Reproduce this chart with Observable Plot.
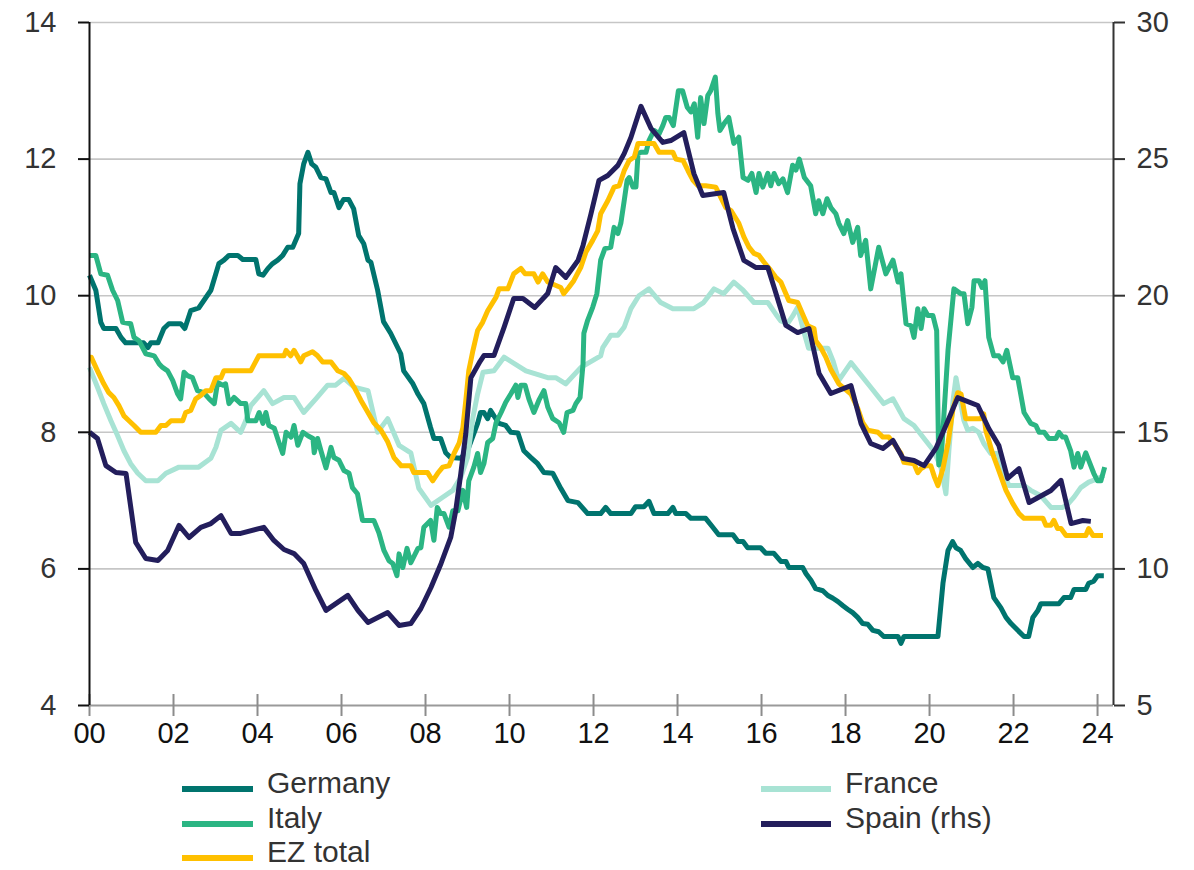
<!DOCTYPE html>
<html><head><meta charset="utf-8">
<script src="https://cdn.jsdelivr.net/npm/d3@7"></script>
<script src="https://cdn.jsdelivr.net/npm/@observablehq/plot@0.6"></script>
<style>
body{margin:0;background:#fff;font-family:"Liberation Sans",Arial,sans-serif}
#wrap{position:relative;width:1194px;height:870px;overflow:hidden}
.sw{position:absolute;height:6px}
.lt{position:absolute;font-size:30px;line-height:30px;color:#333;white-space:nowrap}
</style>
</head><body><div id="wrap"></div>
<script>
// ---- data: [decimal year, value] ----
const germany = [[2000.00,10.30],[2000.15,10.08],[2000.27,9.61],[2000.34,9.52],[2000.63,9.52],[2000.75,9.39],[2000.86,9.31],[2001.29,9.31],[2001.39,9.24],[2001.46,9.31],[2001.63,9.31],[2001.77,9.52],[2001.89,9.59],[2002.17,9.59],[2002.27,9.52],[2002.41,9.78],[2002.60,9.82],[2002.89,10.08],[2003.08,10.47],[2003.20,10.52],[2003.32,10.59],[2003.53,10.59],[2003.65,10.53],[2003.96,10.53],[2004.03,10.32],[2004.13,10.30],[2004.25,10.40],[2004.36,10.47],[2004.48,10.52],[2004.60,10.59],[2004.72,10.71],[2004.84,10.71],[2004.98,10.91],[2005.01,11.64],[2005.10,11.93],[2005.20,12.10],[2005.29,11.93],[2005.39,11.88],[2005.51,11.73],[2005.63,11.71],[2005.75,11.51],[2005.82,11.51],[2005.94,11.29],[2006.05,11.41],[2006.17,11.41],[2006.29,11.27],[2006.41,10.88],[2006.53,10.76],[2006.63,10.52],[2006.70,10.49],[2006.86,10.08],[2007.00,9.62],[2007.17,9.45],[2007.41,9.15],[2007.48,8.90],[2007.70,8.71],[2007.82,8.56],[2007.96,8.42],[2008.12,8.07],[2008.20,7.91],[2008.36,7.91],[2008.48,7.70],[2008.60,7.63],[2008.84,7.62],[2009.00,7.73],[2009.24,8.13],[2009.31,8.29],[2009.39,8.29],[2009.48,8.20],[2009.55,8.32],[2009.63,8.24],[2009.75,8.13],[2009.91,8.10],[2010.03,8.00],[2010.20,7.99],[2010.34,7.73],[2010.51,7.63],[2010.67,7.54],[2010.82,7.41],[2011.03,7.40],[2011.22,7.18],[2011.39,7.00],[2011.63,6.97],[2011.86,6.81],[2012.17,6.81],[2012.29,6.90],[2012.41,6.81],[2012.89,6.81],[2013.00,6.91],[2013.20,6.91],[2013.32,6.99],[2013.44,6.81],[2013.77,6.81],[2013.89,6.90],[2013.96,6.81],[2014.20,6.81],[2014.32,6.74],[2014.67,6.74],[2014.84,6.61],[2014.98,6.50],[2015.32,6.50],[2015.44,6.40],[2015.56,6.40],[2015.67,6.31],[2015.98,6.31],[2016.10,6.23],[2016.29,6.23],[2016.46,6.11],[2016.58,6.11],[2016.65,6.02],[2016.98,6.02],[2017.06,5.93],[2017.18,5.83],[2017.29,5.71],[2017.46,5.68],[2017.58,5.61],[2017.70,5.57],[2017.82,5.52],[2017.94,5.46],[2018.05,5.41],[2018.17,5.36],[2018.29,5.29],[2018.41,5.20],[2018.53,5.19],[2018.65,5.10],[2018.79,5.08],[2018.91,5.01],[2019.25,5.01],[2019.32,4.91],[2019.39,5.01],[2020.20,5.01],[2020.32,5.79],[2020.44,6.27],[2020.55,6.40],[2020.63,6.31],[2020.74,6.27],[2020.86,6.15],[2021.03,6.02],[2021.15,6.08],[2021.27,6.02],[2021.39,6.00],[2021.53,5.58],[2021.70,5.43],[2021.82,5.29],[2021.94,5.20],[2022.10,5.10],[2022.25,5.01],[2022.36,5.01],[2022.46,5.29],[2022.58,5.39],[2022.65,5.49],[2023.08,5.49],[2023.20,5.58],[2023.36,5.58],[2023.44,5.70],[2023.72,5.70],[2023.79,5.79],[2023.91,5.82],[2024.00,5.90],[2024.15,5.90]];

const france = [[2000.00,8.95],[2000.19,8.66],[2000.34,8.42],[2000.51,8.17],[2000.67,7.95],[2000.82,7.73],[2000.98,7.54],[2001.15,7.40],[2001.34,7.29],[2001.63,7.29],[2001.82,7.40],[2002.13,7.49],[2002.60,7.49],[2002.89,7.62],[2003.01,7.78],[2003.13,8.03],[2003.37,8.13],[2003.60,8.00],[2003.72,8.17],[2003.84,8.39],[2004.15,8.61],[2004.36,8.42],[2004.63,8.51],[2004.87,8.51],[2005.10,8.29],[2005.39,8.49],[2005.67,8.69],[2005.86,8.69],[2006.06,8.79],[2006.30,8.66],[2006.63,8.61],[2006.86,8.00],[2007.10,8.20],[2007.37,7.81],[2007.65,7.70],[2007.84,7.18],[2008.13,6.93],[2008.41,7.05],[2008.65,7.15],[2008.84,7.34],[2009.00,7.63],[2009.13,8.22],[2009.24,8.56],[2009.37,8.88],[2009.63,8.90],[2009.87,9.10],[2010.39,8.90],[2010.91,8.80],[2011.10,8.80],[2011.34,8.71],[2011.70,8.95],[2012.17,9.12],[2012.22,9.24],[2012.41,9.42],[2012.58,9.42],[2012.73,9.54],[2012.89,9.81],[2013.08,10.00],[2013.32,10.10],[2013.60,9.90],[2013.89,9.81],[2014.39,9.81],[2014.62,9.90],[2014.87,10.10],[2015.10,10.03],[2015.34,10.20],[2015.56,10.08],[2015.82,9.90],[2016.15,9.90],[2016.34,9.73],[2016.46,9.63],[2016.62,9.59],[2016.74,9.70],[2016.86,9.83],[2017.00,9.49],[2017.12,9.23],[2017.58,9.23],[2017.70,9.05],[2017.84,8.76],[2018.13,9.02],[2018.60,8.66],[2018.91,8.42],[2019.13,8.49],[2019.39,8.20],[2019.63,8.10],[2019.87,7.91],[2020.10,7.73],[2020.27,7.49],[2020.39,7.10],[2020.46,7.73],[2020.56,8.47],[2020.63,8.80],[2020.70,8.56],[2020.82,8.17],[2020.91,8.03],[2021.03,8.06],[2021.17,8.00],[2021.29,7.84],[2021.46,7.69],[2021.63,7.69],[2021.77,7.40],[2021.89,7.22],[2022.25,7.22],[2022.41,7.15],[2022.65,7.07],[2022.89,6.90],[2023.17,6.90],[2023.31,6.96],[2023.44,7.05],[2023.60,7.19],[2023.79,7.27],[2024.00,7.32],[2024.15,7.37]];

const italy = [[2000.00,10.59],[2000.15,10.59],[2000.27,10.32],[2000.43,10.30],[2000.55,10.08],[2000.67,9.93],[2000.79,9.61],[2000.98,9.59],[2001.06,9.39],[2001.18,9.34],[2001.34,9.15],[2001.54,9.12],[2001.66,9.00],[2001.74,8.95],[2001.86,8.90],[2001.98,8.76],[2002.10,8.56],[2002.17,8.49],[2002.25,8.88],[2002.33,8.83],[2002.45,8.80],[2002.57,8.61],[2002.72,8.58],[2002.85,8.49],[2002.97,8.42],[2003.05,8.73],[2003.17,8.69],[2003.24,8.71],[2003.32,8.42],[2003.44,8.51],[2003.60,8.42],[2003.72,8.42],[2003.77,8.17],[2003.96,8.17],[2004.04,8.29],[2004.13,8.13],[2004.20,8.29],[2004.27,8.10],[2004.40,8.06],[2004.51,7.85],[2004.60,7.69],[2004.68,8.00],[2004.80,7.93],[2004.87,8.10],[2004.96,7.81],[2005.08,8.00],[2005.20,7.95],[2005.32,7.91],[2005.35,7.70],[2005.43,7.91],[2005.51,7.73],[2005.63,7.48],[2005.75,7.78],[2005.82,7.63],[2005.94,7.59],[2006.06,7.44],[2006.18,7.40],[2006.26,7.19],[2006.38,7.10],[2006.50,6.71],[2006.77,6.71],[2006.89,6.53],[2007.01,6.27],[2007.13,6.12],[2007.22,6.08],[2007.32,5.90],[2007.37,6.22],[2007.46,6.02],[2007.56,6.30],[2007.65,6.09],[2007.82,6.30],[2007.89,6.31],[2007.96,6.61],[2008.12,6.71],[2008.20,6.42],[2008.28,6.90],[2008.36,6.81],[2008.44,6.81],[2008.56,6.61],[2008.65,6.85],[2008.77,6.85],[2008.89,7.15],[2008.98,6.90],[2009.03,7.29],[2009.15,7.49],[2009.24,7.69],[2009.31,7.41],[2009.39,7.54],[2009.48,7.85],[2009.60,7.91],[2009.68,8.14],[2009.80,8.29],[2009.91,8.44],[2010.03,8.56],[2010.15,8.69],[2010.20,8.51],[2010.27,8.69],[2010.37,8.69],[2010.46,8.49],[2010.58,8.29],[2010.70,8.47],[2010.82,8.61],[2010.91,8.37],[2011.03,8.20],[2011.18,8.14],[2011.29,8.00],[2011.37,8.29],[2011.51,8.32],[2011.58,8.42],[2011.68,8.51],[2011.75,9.00],[2011.77,9.45],[2011.86,9.64],[2011.98,9.83],[2012.08,10.03],[2012.17,10.52],[2012.27,10.69],[2012.41,10.71],[2012.49,11.00],[2012.58,10.91],[2012.65,11.06],[2012.73,11.39],[2012.80,11.69],[2012.85,11.73],[2012.94,11.59],[2013.01,11.59],[2013.06,12.08],[2013.13,12.10],[2013.25,12.10],[2013.32,12.27],[2013.44,12.42],[2013.56,12.37],[2013.65,12.49],[2013.72,12.61],[2013.80,12.61],[2013.90,12.49],[2014.02,13.00],[2014.12,13.00],[2014.23,12.76],[2014.32,12.69],[2014.40,12.81],[2014.48,12.32],[2014.55,12.90],[2014.63,12.52],[2014.72,12.93],[2014.79,13.00],[2014.90,13.20],[2014.96,12.67],[2015.01,12.42],[2015.11,12.52],[2015.22,12.61],[2015.34,12.23],[2015.46,12.32],[2015.56,11.73],[2015.68,11.69],[2015.77,11.79],[2015.87,11.51],[2015.94,11.79],[2016.03,11.59],[2016.15,11.79],[2016.22,11.61],[2016.30,11.79],[2016.41,11.64],[2016.51,11.71],[2016.62,11.51],[2016.74,11.91],[2016.82,11.84],[2016.90,12.00],[2017.02,11.73],[2017.17,11.61],[2017.29,11.20],[2017.36,11.39],[2017.46,11.20],[2017.56,11.42],[2017.65,11.29],[2017.77,11.20],[2017.84,11.06],[2017.96,10.91],[2018.05,11.10],[2018.17,10.78],[2018.29,11.00],[2018.36,10.59],[2018.48,10.81],[2018.60,10.10],[2018.79,10.71],[2018.96,10.32],[2019.13,10.52],[2019.25,10.20],[2019.32,10.32],[2019.44,9.59],[2019.56,9.56],[2019.63,9.39],[2019.72,9.81],[2019.80,9.52],[2019.87,9.81],[2019.96,9.71],[2020.08,9.71],[2020.17,9.49],[2020.22,7.52],[2020.27,7.55],[2020.44,9.20],[2020.58,10.10],[2020.74,10.03],[2020.82,10.03],[2020.91,9.59],[2021.01,9.83],[2021.06,10.22],[2021.18,10.22],[2021.25,10.12],[2021.32,10.22],[2021.41,9.39],[2021.53,9.12],[2021.65,9.12],[2021.75,9.03],[2021.84,9.20],[2021.98,8.80],[2022.10,8.80],[2022.25,8.29],[2022.41,8.13],[2022.53,8.10],[2022.61,8.00],[2022.73,8.00],[2022.84,7.91],[2023.01,7.91],[2023.08,8.00],[2023.17,7.93],[2023.24,7.93],[2023.36,7.73],[2023.44,7.49],[2023.53,7.69],[2023.60,7.49],[2023.72,7.70],[2023.79,7.59],[2023.91,7.40],[2024.00,7.29],[2024.08,7.29],[2024.17,7.49]];

const ezTotal = [[2000.00,9.10],[2000.04,9.10],[2000.19,8.90],[2000.34,8.71],[2000.46,8.58],[2000.58,8.51],[2000.70,8.39],[2000.82,8.24],[2000.94,8.17],[2001.06,8.10],[2001.22,8.00],[2001.58,8.00],[2001.70,8.10],[2001.82,8.10],[2001.94,8.17],[2002.22,8.17],[2002.29,8.29],[2002.41,8.32],[2002.53,8.49],[2002.65,8.54],[2002.77,8.61],[2002.89,8.61],[2003.01,8.80],[2003.13,8.80],[2003.20,8.90],[2003.84,8.90],[2004.03,9.12],[2004.63,9.12],[2004.68,9.20],[2004.79,9.12],[2004.87,9.20],[2005.03,9.03],[2005.10,9.12],[2005.31,9.18],[2005.43,9.12],[2005.55,9.03],[2005.75,9.03],[2005.91,8.90],[2006.06,8.86],[2006.18,8.78],[2006.30,8.66],[2006.46,8.47],[2006.63,8.29],[2006.77,8.14],[2006.94,8.03],[2007.10,7.86],[2007.25,7.63],[2007.42,7.51],[2007.65,7.51],[2007.72,7.41],[2008.05,7.41],[2008.17,7.29],[2008.29,7.40],[2008.41,7.49],[2008.56,7.51],[2008.68,7.69],[2008.80,7.84],[2008.89,8.07],[2008.96,8.47],[2009.03,8.90],[2009.13,9.20],[2009.24,9.49],[2009.36,9.61],[2009.48,9.78],[2009.68,9.98],[2009.75,10.10],[2009.96,10.10],[2010.10,10.32],[2010.27,10.40],[2010.37,10.32],[2010.58,10.32],[2010.68,10.20],[2010.79,10.32],[2010.91,10.20],[2011.22,10.12],[2011.29,10.03],[2011.41,10.12],[2011.53,10.22],[2011.70,10.42],[2011.82,10.64],[2011.98,10.81],[2012.10,10.95],[2012.17,11.20],[2012.34,11.39],[2012.49,11.59],[2012.61,11.61],[2012.73,11.83],[2012.85,11.98],[2012.97,12.03],[2013.06,12.23],[2013.44,12.23],[2013.56,12.10],[2013.89,12.10],[2013.96,12.00],[2014.13,11.98],[2014.25,11.83],[2014.37,11.69],[2014.49,11.61],[2014.67,11.61],[2014.91,11.59],[2015.03,11.44],[2015.15,11.29],[2015.27,11.25],[2015.39,11.13],[2015.46,11.06],[2015.58,10.86],[2015.70,10.71],[2015.82,10.62],[2015.94,10.59],[2016.06,10.49],[2016.22,10.37],[2016.34,10.27],[2016.46,10.20],[2016.58,10.03],[2016.65,9.93],[2016.86,9.90],[2016.98,9.73],[2017.10,9.56],[2017.25,9.52],[2017.29,9.34],[2017.41,9.24],[2017.53,9.10],[2017.65,8.92],[2017.84,8.71],[2018.13,8.56],[2018.29,8.35],[2018.41,8.14],[2018.53,8.03],[2018.77,8.00],[2018.89,7.93],[2019.03,7.93],[2019.15,7.84],[2019.32,7.69],[2019.39,7.56],[2019.63,7.54],[2019.72,7.41],[2019.80,7.47],[2019.91,7.51],[2020.03,7.51],[2020.12,7.34],[2020.20,7.22],[2020.32,7.47],[2020.44,7.84],[2020.56,8.35],[2020.67,8.58],[2020.75,8.56],[2020.86,8.20],[2021.22,8.20],[2021.29,8.27],[2021.34,8.03],[2021.50,7.69],[2021.65,7.44],[2021.82,7.15],[2021.98,6.96],[2022.13,6.81],[2022.25,6.74],[2022.70,6.74],[2022.77,6.64],[2022.89,6.64],[2022.96,6.71],[2023.05,6.59],[2023.13,6.59],[2023.25,6.49],[2023.72,6.49],[2023.79,6.59],[2023.89,6.49],[2024.13,6.49]];

// Spain, right-hand scale
const spainRhs = [[2000.00,15.00],[2000.19,14.77],[2000.39,13.78],[2000.63,13.53],[2000.87,13.49],[2001.10,10.97],[2001.34,10.38],[2001.63,10.31],[2001.86,10.67],[2002.13,11.59],[2002.37,11.15],[2002.65,11.52],[2002.89,11.66],[2003.13,11.95],[2003.37,11.30],[2003.60,11.30],[2004.15,11.52],[2004.39,11.04],[2004.63,10.71],[2004.87,10.56],[2005.10,10.20],[2005.39,9.21],[2005.63,8.48],[2006.15,9.03],[2006.39,8.48],[2006.63,8.04],[2007.10,8.40],[2007.37,7.93],[2007.65,8.00],[2007.89,8.55],[2008.13,9.32],[2008.37,10.20],[2008.60,11.15],[2008.72,12.14],[2008.84,13.49],[2008.96,14.96],[2009.08,17.00],[2009.30,17.60],[2009.39,17.81],[2009.63,17.81],[2009.87,18.84],[2010.10,19.90],[2010.32,19.90],[2010.60,19.57],[2010.91,20.08],[2011.10,21.03],[2011.34,20.67],[2011.63,21.29],[2011.75,21.84],[2011.94,23.00],[2012.13,24.22],[2012.34,24.40],[2012.58,24.77],[2012.73,25.20],[2012.89,25.79],[2013.13,26.93],[2013.37,26.12],[2013.65,25.61],[2013.84,25.68],[2014.15,25.97],[2014.39,24.47],[2014.60,23.67],[2015.10,23.78],[2015.32,22.46],[2015.58,21.29],[2015.87,21.03],[2016.15,21.03],[2016.30,20.30],[2016.58,18.91],[2016.86,18.65],[2017.13,18.80],[2017.37,17.15],[2017.65,16.42],[2018.13,16.71],[2018.37,15.32],[2018.60,14.59],[2018.89,14.41],[2019.13,14.70],[2019.37,14.04],[2019.63,13.97],[2019.87,13.78],[2020.15,14.41],[2020.39,15.25],[2020.67,16.27],[2021.15,15.98],[2021.41,15.14],[2021.65,14.52],[2021.86,13.31],[2022.13,13.67],[2022.37,12.43],[2022.89,12.87],[2023.13,13.24],[2023.37,11.66],[2023.65,11.77],[2023.84,11.74]];

const xTicks = [2000,2002,2004,2006,2008,2010,2012,2014,2016,2018,2020,2022,2024];
const leftTicks = [4,6,8,10,12,14];
const rightTicks = [5,10,15,20,25,30];

const seriesNames = ["Germany","France","Italy","EZ total","Spain (rhs)"];
const seriesColors = ["#00746e","#a8e3d4","#2bb583","#ffc000","#231e5c"];
const legendRows = [["Germany","France"],["Italy","Spain (rhs)"],["EZ total",null]];

// ---- dual-axis mapping ----
const L0 = leftTicks[0], L1 = leftTicks[leftTicks.length-1];
const R0 = rightTicks[0], R1 = rightTicks[rightTicks.length-1];
const toLeft = r => L0 + (r - R0) * (L1 - L0) / (R1 - R0);
const fromLeft = l => R0 + (l - L0) * (R1 - R0) / (L1 - L0);

const sources = [germany, france, italy, ezTotal, spainRhs.map(([x, r]) => [x, toLeft(r)])];
const rows = sources.flatMap((s, i) => s.map(([x, y]) => ({series: seriesNames[i], x, y})));

const font = '"Liberation Sans", Arial, sans-serif';
const chart = Plot.plot({
  width: 1194, height: 760,
  marginTop: 22, marginLeft: 89, marginRight: 81, marginBottom: 55,
  style: {fontFamily: font, fontSize: "29px", color: "#333", background: "#fff"},
  x: {domain: [2000, 2024.38], label: null},
  y: {domain: [L0, L1], label: null},
  color: {domain: seriesNames, range: seriesColors},
  marks: [
    Plot.ruleY(leftTicks.filter(v => v > L0), {stroke: "#c6c6c6", strokeWidth: 1.6}),
    Plot.ruleY([L0], {stroke: "#9a9a9a", strokeWidth: 2}),
    Plot.tickX(xTicks, {x: d => d, insetTop: 672, insetBottom: -11, stroke: "#8c8c8c", strokeWidth: 2}),
    Plot.axisX(xTicks, {tickSize: 0, tickPadding: 17, tickFormat: d => String(d % 100).padStart(2, "0"), fill: "#111"}),
    Plot.axisY(leftTicks, {anchor: "left", tickSize: 11, tickPadding: 22, stroke: "#111", strokeWidth: 2,
      tickFormat: d => String(d)}),
    Plot.axisY(rightTicks.map(toLeft), {anchor: "right", tickSize: 11, tickPadding: 12, stroke: "#333", strokeWidth: 2,
      tickFormat: d => String(Math.round(fromLeft(d)))}),
    Plot.line(rows, {x: "x", y: "y", z: "series", stroke: "series", strokeWidth: 5, strokeLinejoin: "round", strokeLinecap: "butt"}),
    Plot.ruleX([2000], {stroke: "#111", strokeWidth: 2}),
    Plot.ruleX([2024.38], {stroke: "#333", strokeWidth: 2})
  ]
});

const wrap = document.getElementById("wrap");
wrap.appendChild(chart);

// ---- legend (HTML, below the SVG) ----
const colX = [[182, 267], [761, 845]];
legendRows.forEach((row, r) => {
  row.forEach((name, c) => {
    if (!name) return;
    const color = seriesColors[seriesNames.indexOf(name)];
    const sw = document.createElement("div");
    sw.className = "sw";
    sw.style.left = colX[c][0] + "px";
    sw.style.width = (colX[c][1] - colX[c][0] - 14) + "px";
    sw.style.top = (786 + r * 34.5) + "px";
    sw.style.background = color;
    wrap.appendChild(sw);
    const t = document.createElement("div");
    t.className = "lt";
    t.style.left = colX[c][1] + "px";
    t.style.top = (768 + r * 34.5) + "px";
    t.textContent = name;
    wrap.appendChild(t);
  });
});
</script>
</body></html>
